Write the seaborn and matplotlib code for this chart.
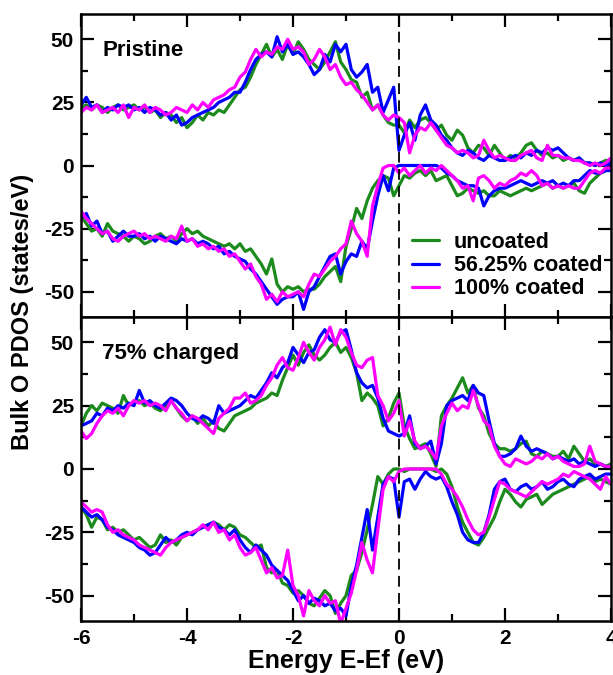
import numpy as np
import pandas as pd
import matplotlib
matplotlib.use("Agg")
import matplotlib.pyplot as plt
from matplotlib.ticker import MultipleLocator
import seaborn as sns

# Energy grid (eV, relative to Fermi level)
energy = np.linspace(-6.0, 4.0, 101)

labels = ["uncoated", "56.25% coated", "100% coated"]
colors = ["#1c8a1c", "#0000ff", "#ff00ff"]

# ---------------- Pristine: spin up ----------------
pri_up_unc = [23, 24, 22, 24, 23, 21, 23, 24, 22, 23,
              24, 22, 23, 21, 22, 19, 21, 20, 17, 19,
              15, 17, 20, 18, 21, 20, 22, 21, 24, 27,
              30, 31, 35, 40, 44, 48, 43, 46, 42, 48,
              44, 49, 46, 42, 40, 38, 41, 45, 49, 41,
              38, 34, 33, 27, 29, 22, 24, 20, 17, 16,
              16, 13, 18, 15, 18, 19, 17, 14, 16, 12,
              10, 14, 12, 7, 5, 8, 7, 4, 8, 5,
              2, 4, 3, 5, 8, 9, 6, 4, 5, 3,
              4, 2, 3, 2, 3, 1, 1, 0, 1, 2,
              2]
pri_up_56 = [24, 27, 23, 24, 21, 23, 22, 24, 23, 24,
             22, 23, 21, 23, 22, 20, 21, 18, 20, 16,
             17, 19, 20, 21, 22, 23, 25, 26, 27, 29,
             29, 33, 38, 42, 44, 45, 43, 51, 45, 48,
             44, 45, 43, 40, 36, 38, 44, 41, 48, 45,
             48, 38, 35, 37, 40, 29, 31, 21, 26, 31,
             6, 12, 17, 10, 20, 24, 18, 16, 12, 10,
             7, 5, 4, 6, 5, 3, 2, 4, 3, 2,
             2, 3, 4, 3, 5, 4, 6, 5, 7, 6,
             7, 5, 3, 2, 3, 1, 1, 0, 1, 0,
             1]
pri_up_100 = [21, 23, 22, 24, 21, 22, 23, 21, 24, 19,
              23, 22, 24, 21, 23, 22, 20, 21, 23, 22,
              21, 24, 22, 25, 23, 26, 27, 28, 30, 31,
              35, 37, 42, 46, 43, 45, 44, 47, 46, 50,
              46, 47, 45, 40, 42, 46, 43, 38, 40, 35,
              32, 33, 30, 28, 25, 22, 24, 20, 18, 20,
              19, 17, 5, 12, 15, 14, 17, 14, 11, 8,
              7, 5, 6, 5, 3, 4, 10, 6, 3, 4,
              3, 2, 2, 4, 5, 6, 3, 2, 8, 4,
              4, 3, 3, 2, 2, 1, 0, 1, 0, 1,
              3]

# ---------------- Pristine: spin down ----------------
pri_dn_unc = [-20, -23, -26, -25, -28, -23, -26, -27, -28, -30,
              -28, -29, -31, -30, -28, -27, -29, -28, -30, -27,
              -25, -27, -26, -28, -29, -30, -31, -32, -31, -33,
              -31, -34, -33, -36, -39, -43, -37, -47, -50, -48,
              -49, -48, -50, -49, -49, -47, -44, -42, -40, -46,
              -32, -25, -17, -21, -14, -9, -6, -4, -5, -12,
              -8, -4, -5, -3, -2, -4, -2, -6, -5, -4,
              -8, -12, -11, -9, -10, -11, -10, -12, -12, -10,
              -11, -12, -11, -10, -9, -10, -9, -8, -7, -9,
              -8, -9, -8, -7, -10, -11, -7, -5, -3, -2,
              -1]
pri_dn_56 = [-21, -19, -24, -22, -27, -26, -30, -28, -26, -28,
             -28, -27, -29, -28, -30, -28, -29, -30, -31, -29,
             -30, -29, -31, -30, -31, -33, -32, -35, -34, -36,
             -37, -38, -41, -43, -46, -49, -52, -55, -53, -52,
             -52, -50, -57, -50, -48, -44, -40, -36, -35, -43,
             -38, -35, -36, -30, -33, -22, -12, -4, -10, -1,
             0, 0, 0, 0, 0, 0, 0, 0, -1, -3,
             -4, -6, -7, -8, -8, -9, -16, -12, -10, -9,
             -9, -8, -7, -6, -7, -8, -7, -6, -7, -6,
             -8, -7, -8, -6, -6, -4, -2, -3, -3, -2,
             -2]
pri_dn_100 = [-18, -21, -23, -25, -27, -26, -29, -30, -28, -27,
              -26, -28, -27, -29, -28, -29, -30, -28, -29, -24,
              -30, -29, -32, -31, -33, -32, -34, -33, -36, -35,
              -38, -41, -39, -44, -47, -53, -51, -54, -50, -52,
              -51, -50, -52, -47, -43, -44, -41, -38, -36, -33,
              -31, -22, -27, -30, -36, -16, -8, -1, 0, 0,
              -3, -1, -4, -2, 0, -3, -1, -2, 0, -2,
              -4, -6, -9, -8, -14, -5, -4, -6, -9, -7,
              -8, -6, -5, -3, -4, -2, -4, -8, -7, -9,
              -8, -9, -8, -9, -9, -6, -3, -2, -3, -1,
              -1]

# ---------------- 75% charged: spin up ----------------
chg_up_unc = [17, 22, 25, 23, 26, 25, 24, 22, 29, 25,
              26, 27, 25, 26, 24, 23, 25, 27, 24, 21,
              19, 21, 18, 20, 17, 19, 16, 15, 18, 21,
              22, 23, 24, 26, 27, 28, 30, 29, 35, 40,
              45, 41, 46, 49, 45, 43, 45, 48, 50, 46,
              48, 44, 38, 27, 30, 28, 25, 17, 20, 26,
              30, 17, 12, 8, 9, 10, 6, 1, 21, 25,
              28, 32, 36, 30, 33, 24, 21, 14, 10, 8,
              8, 7, 8, 10, 11, 6, 5, 7, 6, 5,
              5, 7, 4, 9, 6, 3, 4, 2, 2, 1,
              2]
chg_up_56 = [17, 18, 19, 22, 21, 24, 23, 25, 24, 26,
             25, 31, 26, 27, 25, 24, 26, 28, 27, 25,
             22, 20, 19, 21, 20, 18, 25, 22, 23, 24,
             25, 27, 29, 28, 31, 34, 38, 36, 40, 42,
             48, 45, 42, 46, 47, 52, 55, 51, 50, 54,
             55, 47, 38, 34, 32, 33, 28, 20, 15, 14,
             13, 14, 21, 10, 8, 9, 11, 2, 10, 25,
             27, 28, 29, 27, 33, 30, 29, 19, 10, 5,
             5, 6, 8, 13, 9, 7, 8, 7, 6, 4,
             5, 4, 3, 4, 2, 3, 2, 1, 2, 1,
             1]
chg_up_100 = [15, 12, 14, 18, 21, 23, 22, 24, 21, 25,
              27, 26, 27, 25, 26, 25, 23, 27, 24, 22,
              19, 21, 20, 18, 16, 14, 20, 22, 24, 28,
              28, 30, 26, 27, 29, 33, 36, 41, 44, 40,
              39, 44, 50, 46, 43, 48, 51, 56, 49, 55,
              52, 46, 41, 40, 43, 44, 29, 25, 19, 22,
              27, 13, 19, 11, 8, 9, 7, 4, 17, 22,
              26, 23, 25, 24, 31, 25, 19, 17, 9, 5,
              2, 1, 4, 3, 2, 3, 5, 4, 6, 4,
              5, 3, 2, 1, 1, 2, 9, 3, 2, 1,
              1]

# ---------------- 75% charged: spin down ----------------
chg_dn_unc = [-15, -18, -23, -19, -20, -24, -23, -25, -24, -26,
              -28, -27, -29, -31, -30, -26, -29, -28, -30, -27,
              -26, -25, -24, -23, -22, -21, -22, -24, -22, -23,
              -26, -27, -29, -31, -30, -39, -41, -40, -45, -46,
              -49, -48, -50, -53, -54, -51, -48, -50, -57, -53,
              -50, -42, -40, -33, -24, -14, -3, -6, -2, 0,
              0, -1, 0, 0, 0, 0, 0, -1, 0, -2,
              -7, -15, -21, -25, -29, -30, -27, -23, -19, -13,
              -8, -10, -13, -15, -12, -11, -10, -14, -12, -10,
              -9, -8, -7, -6, -5, -4, -3, -5, -4, -5,
              -6]
chg_dn_56 = [-15, -17, -19, -18, -20, -23, -24, -26, -27, -28,
             -29, -31, -32, -34, -33, -30, -27, -29, -28, -26,
             -25, -26, -24, -23, -22, -21, -23, -24, -26, -24,
             -28, -31, -33, -30, -32, -34, -38, -40, -42, -44,
             -48, -52, -50, -53, -51, -52, -54, -53, -56, -55,
             -58, -46, -38, -27, -16, -32, -19, -6, -3, -4,
             -19, -5, -4, -8, -4, -1, -3, -4, -3, -7,
             -13, -18, -25, -28, -29, -29, -25, -18, -8, -5,
             -4, -8, -9, -7, -6, -8, -7, -5, -8, -7,
             -5, -4, -6, -7, -4, -3, -2, -4, -3, -2,
             -2]
chg_dn_100 = [-13, -15, -17, -16, -17, -22, -25, -24, -26, -27,
              -28, -30, -31, -32, -33, -34, -31, -29, -28, -27,
              -26, -25, -24, -22, -24, -21, -25, -24, -28, -26,
              -31, -34, -33, -31, -36, -41, -39, -43, -42, -32,
              -46, -50, -58, -48, -52, -54, -50, -53, -52, -61,
              -55, -49, -40, -29, -36, -41, -24, -8, -3, -5,
              -1, 0, 0, 0, 0, 0, 0, 0, -2, -6,
              -8, -11, -15, -20, -24, -26, -25, -19, -12, -5,
              -6, -8, -9, -10, -11, -9, -7, -5, -6, -5,
              -4, -2, -3, -1, -2, -3, -4, -6, -8, -3,
              -6]

panels = [
    ("Pristine", [pri_up_unc, pri_up_56, pri_up_100],
                 [pri_dn_unc, pri_dn_56, pri_dn_100]),
    ("75% charged", [chg_up_unc, chg_up_56, chg_up_100],
                    [chg_dn_unc, chg_dn_56, chg_dn_100]),
]

sns.set_theme(style="ticks")
plt.rcParams["font.family"] = ["Liberation Sans", "DejaVu Sans"]
plt.rcParams["font.weight"] = "bold"
plt.rcParams["axes.unicode_minus"] = False
for key in ["text.color", "axes.labelcolor", "xtick.color", "ytick.color",
            "axes.edgecolor"]:
    plt.rcParams[key] = "black"

W, H = 613, 675
fig = plt.figure(figsize=(W / 100, H / 100), dpi=100)
fig.patch.set_facecolor("white")

left, right = 81 / W, 611 / W
ax_top = fig.add_axes([left, 1 - 317 / H, right - left, (317 - 14) / H])
ax_bot = fig.add_axes([left, 1 - 621 / H, right - left, (621 - 317) / H])

for ax, (title, ups, dns) in zip([ax_top, ax_bot], panels):
    for lab, col, up, dn in zip(labels, colors, ups, dns):
        sns.lineplot(x=energy, y=np.asarray(up, float), color=col, lw=2.3,
                     ax=ax, label=lab)
        sns.lineplot(x=energy, y=np.asarray(dn, float), color=col, lw=2.3,
                     ax=ax, label="_nolegend_")
    ax.axvline(0, color="black", lw=1.3, ls=(0, (6, 3.5)), zorder=5)
    ax.set_xlim(-6, 4)
    ax.set_ylim(-60, 60)
    ax.set_xlabel("")
    ax.set_ylabel("")
    ax.xaxis.set_major_locator(MultipleLocator(2))
    ax.xaxis.set_minor_locator(MultipleLocator(1))
    ax.yaxis.set_major_locator(MultipleLocator(25))
    ax.yaxis.set_minor_locator(MultipleLocator(12.5))
    ax.tick_params(which="both", direction="in", top=True, right=True,
                   width=1.6, colors="black", labelcolor="black",
                   labelsize=15)
    ax.tick_params(which="major", length=9.5)
    ax.tick_params(which="minor", length=5)
    ax.tick_params(axis="y", pad=5)
    ax.tick_params(axis="x", pad=6)
    for s in ax.spines.values():
        s.set_linewidth(1.8)
        s.set_color("black")
    for t in ax.get_xticklabels() + ax.get_yticklabels():
        t.set_fontweight("bold")
        t.set_color("black")
    ax.text(0.04, 0.862, title, transform=ax.transAxes, fontsize=16,
            fontweight="bold", color="black", ha="left", va="baseline")
    ax.set_facecolor("white")

ax_top.tick_params(axis="x", labelbottom=False)
ax_bot.get_legend().remove()

handles, labs = ax_top.get_legend_handles_labels()
ax_top.get_legend().remove()
leg = ax_top.legend(handles, labs, loc="upper left",
                    bbox_to_anchor=(412 / W, 1 - 232 / H),
                    bbox_transform=fig.transFigure, frameon=False,
                    fontsize=15.5, handlelength=1.25, handletextpad=0.7,
                    labelspacing=0.1, borderpad=0, borderaxespad=0)
for t in leg.get_texts():
    t.set_fontweight("bold")
    t.set_color("black")

fig.text(23 / W, 1 - 312 / H, "Bulk O PDOS (states/eV)", rotation=90,
         ha="center", va="center", fontsize=17, fontweight="bold",
         color="black")
fig.text(346 / W, 1 - 661 / H, "Energy E-Ef (eV)", ha="center",
         va="center", fontsize=18, fontweight="bold", color="black")

fig.savefig("out.png", dpi=100, facecolor="white")
